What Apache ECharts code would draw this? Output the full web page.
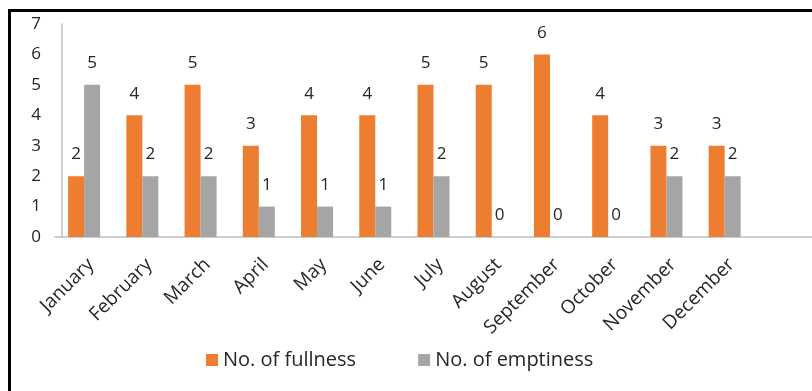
<!DOCTYPE html>
<html>
<head>
<meta charset="utf-8">
<script src="https://cdn.jsdelivr.net/npm/echarts@6/dist/echarts.min.js"></script>
<style>
  html, body { margin: 0; padding: 0; background: #fff; }
  #chart { width: 812px; height: 391px; }
</style>
</head>
<body>
<div id="chart"></div>
<script>
const months = ['January', 'February', 'March', 'April', 'May', 'June', 'July',
  'August', 'September', 'October', 'November', 'December']
const fullness = [2, 4, 5, 3, 4, 4, 5, 5, 6, 4, 3, 3]
const emptiness = [5, 2, 2, 1, 1, 1, 2, 0, 0, 0, 2, 2]
const yTicks = [0, 1, 2, 3, 4, 5, 6, 7]

const font = "'Open Sans', 'DejaVu Sans', sans-serif"
const textColor = '#262626'

const chart = echarts.init(document.getElementById('chart'))

const barLabel = {
  show: true,
  position: 'top',
  distance: 13,
  fontSize: 17,
  fontFamily: font,
  color: textColor,
}

chart.setOption({
  animation: false,
  textStyle: { fontFamily: font },
  graphic: [
    {
      type: 'rect',
      shape: { x: 9.5, y: 10.5, width: 900, height: 500 },
      style: { fill: 'none', stroke: '#000', lineWidth: 3 },
      silent: true,
    },
  ],
  legend: {
    left: 201,
    top: 345,
    itemWidth: 12,
    itemHeight: 12,
    itemGap: 62,
    icon: 'rect',
    textStyle: { fontSize: 20, color: textColor, fontFamily: font },
    data: ['No. of fullness', 'No. of emptiness'],
  },
  grid: {
    left: 55,
    right: -1,
    top: 24,
    bottom: 154,
    containLabel: false,
  },
  xAxis: {
    type: 'category',
    // one empty slot on the right like the source chart
    data: months.concat(['']),
    axisLine: { show: true, lineStyle: { color: '#bfbfbf', width: 1.5 } },
    axisTick: { show: false },
    axisLabel: {
      interval: 0,
      rotate: 45,
      fontSize: 19,
      color: textColor,
      fontFamily: font,
      margin: 18,
      align: 'right',
      verticalAlign: 'top',
    },
  },
  yAxis: {
    type: 'value',
    min: yTicks[0],
    max: yTicks[yTicks.length - 1],
    interval: 1,
    offset: -7,
    splitLine: { show: false },
    axisLine: { show: true, lineStyle: { color: '#bfbfbf', width: 1.5 } },
    axisTick: { show: false },
    axisLabel: {
      fontSize: 17,
      color: textColor,
      fontFamily: font,
      margin: 21,
    },
  },
  series: [
    {
      name: 'No. of fullness',
      type: 'bar',
      data: fullness,
      barWidth: 16,
      barGap: '0%',
      itemStyle: { color: '#ed7d31' },
      label: barLabel,
    },
    {
      name: 'No. of emptiness',
      type: 'bar',
      data: emptiness,
      barWidth: 16,
      itemStyle: { color: '#a5a5a5' },
      label: barLabel,
    },
  ],
})
</script>
</body>
</html>
